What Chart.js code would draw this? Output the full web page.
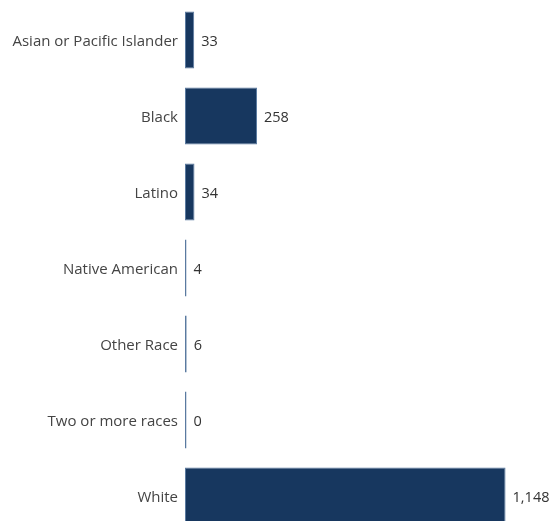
<!DOCTYPE html>
<html>
<head>
<meta charset="utf-8">
<script src="https://cdn.jsdelivr.net/npm/chart.js@4"></script>
<style>
  html, body { margin: 0; padding: 0; background: #fff; overflow: hidden; }
  #wrap { position: relative; width: 554px; height: 536px; }
</style>
</head>
<body>
<div id="wrap"><canvas id="raceChart"></canvas></div>
<script>
const categories = [
  "Asian or Pacific Islander",
  "Black",
  "Latino",
  "Native American",
  "Other Race",
  "Two or more races",
  "White",
];
const counts = [33, 258, 34, 4, 6, 0, 1148];

// draws the value right of each bar end
const valueLabels = {
  id: "valueLabels",
  afterDatasetsDraw(chart) {
    const ctx = chart.ctx;
    const meta = chart.getDatasetMeta(0);
    ctx.save();
    ctx.font = "14.5px 'Open Sans', sans-serif";
    ctx.fillStyle = "#333";
    ctx.textAlign = "left";
    ctx.textBaseline = "middle";
    meta.data.forEach((bar, i) => {
      ctx.fillText(counts[i].toLocaleString("en-US"), Math.max(bar.x, bar.base) + 7, bar.y + 2);
    });
    ctx.restore();
  },
};

new Chart(document.getElementById("raceChart"), {
  type: "bar",
  data: {
    labels: categories,
    datasets: [
      {
        data: counts,
        backgroundColor: "#17375f",
        borderColor: "#5a7aa0",
        borderWidth: 1,
        borderSkipped: false,
        minBarLength: 1.5,
        barPercentage: 0.75,
        categoryPercentage: 1,
      },
    ],
  },
  options: {
    indexAxis: "y",
    responsive: true,
    maintainAspectRatio: false,
    animation: false,
    layout: { padding: { top: 2, bottom: 2, right: 6 } },
    scales: {
      x: { display: false, min: 0, max: 1300 },
      y: {
        grid: { display: false, drawTicks: false },
        border: { display: false },
        ticks: {
          padding: 7,
          labelOffset: 2,
          color: "#444",
          font: { family: "'Open Sans', sans-serif", size: 15 },
        },
        afterFit: (scale) => {
          scale.width = 185;
          scale.paddingTop = 0;
          scale.paddingBottom = 0;
        },
      },
    },
    plugins: {
      legend: { display: false },
      tooltip: { enabled: false },
    },
  },
  plugins: [valueLabels],
});
</script>
</body>
</html>
